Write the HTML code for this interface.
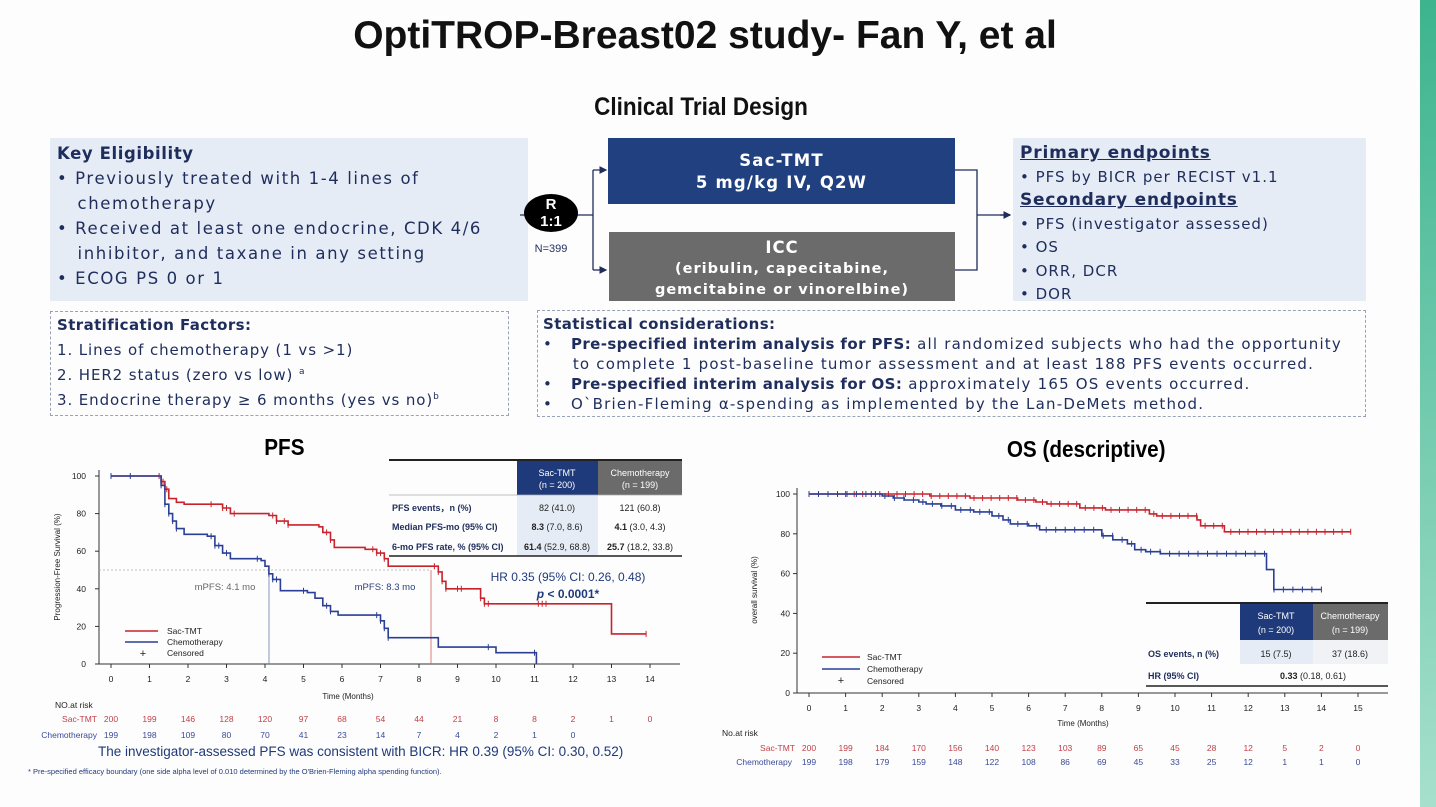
<!DOCTYPE html>
<html><head><meta charset="utf-8"><style>
body{margin:0;width:1436px;height:807px;background:#fdfdfd;position:relative;overflow:hidden;font-family:"Liberation Sans",Arial,sans-serif}
.a{position:absolute;white-space:nowrap}
.nv{color:#1e2d5c}
.dj{font-family:"DejaVu Sans","Liberation Sans",sans-serif}
.bx{position:absolute;background:#e6ecf5}
.ds{position:absolute;border:1.5px dashed #9aa3b5;box-sizing:border-box}
sup{line-height:0}
</style></head><body>
<div class="a" style="left:1420px;top:0;width:16px;height:807px;background:linear-gradient(#3db48e,#a6e0cc)"></div>
<div class="a" style="left:0;width:1410px;top:14px;text-align:center;font-size:39px;font-weight:bold;color:#111">OptiTROP-Breast02 study- Fan Y, et al</div>
<div class="a" style="left:0;width:1402px;top:93px;text-align:center;font-size:25px;font-weight:bold;color:#111;transform:scaleX(0.9)">Clinical Trial Design</div>

<div class="bx" style="left:50px;top:138px;width:478px;height:163px"></div>
<div class="a nv dj" style="left:57px;top:141px;font-size:16.5px;line-height:25px;letter-spacing:1.6px">
<b style="letter-spacing:0.6px">Key Eligibility</b><br>
• Previously treated with 1-4 lines of<br>&nbsp;&nbsp;&nbsp;chemotherapy<br>
• Received at least one endocrine, CDK 4/6<br>&nbsp;&nbsp;&nbsp;inhibitor, and taxane in any setting<br>
• ECOG PS 0 or 1</div>

<div class="ds" style="left:50px;top:311px;width:459px;height:105px"></div>
<div class="a nv dj" style="left:57px;top:313px;font-size:15px;line-height:25px;letter-spacing:0.9px"><b style="letter-spacing:0.4px">Stratification Factors:</b><br>1. Lines of chemotherapy (1 vs &gt;1)<br>2. HER2 status (zero vs low) <sup style="font-size:9px">a</sup><br>3. Endocrine therapy ≥ 6 months (yes vs no)<sup style="font-size:9px">b</sup></div>

<div class="ds" style="left:537px;top:310px;width:829px;height:107px"></div>
<div class="a nv dj" style="left:543px;top:314px;font-size:15px;line-height:20px;letter-spacing:1.2px"><b style="letter-spacing:0.4px">Statistical considerations:</b><br>
•&nbsp;&nbsp;&nbsp;<b style="letter-spacing:0.4px">Pre-specified interim analysis for PFS:</b> all randomized subjects who had the opportunity<br>
&nbsp;&nbsp;&nbsp;&nbsp;&nbsp;to complete 1 post-baseline tumor assessment and at least 188 PFS events occurred.<br>
•&nbsp;&nbsp;&nbsp;<b style="letter-spacing:0.4px">Pre-specified interim analysis for OS:</b> approximately 165 OS events occurred.<br>
•&nbsp;&nbsp;&nbsp;O`Brien-Fleming α-spending as implemented by the Lan-DeMets method.</div>

<div class="a dj" style="left:608px;top:138px;width:347px;height:66px;background:#21407f;color:#fff;text-align:center;font-weight:bold;font-size:16.5px;line-height:22px;padding-top:12px;box-sizing:border-box;letter-spacing:1.2px">Sac-TMT<br>5 mg/kg IV, Q2W</div>
<div class="a dj" style="left:609px;top:232px;width:346px;height:69px;background:#6b6b6b;color:#fff;text-align:center;font-weight:bold;font-size:16.5px;line-height:20px;padding-top:6px;box-sizing:border-box;letter-spacing:1px">ICC<br><span style="font-size:14.5px">(eribulin, capecitabine,<br>gemcitabine or vinorelbine)</span></div>

<div class="bx" style="left:1013px;top:138px;width:353px;height:163px"></div>
<div class="a dj" style="left:1020px;top:142px;color:#1e2d5c;font-size:15px;line-height:23.5px;letter-spacing:1px">
<b style="font-size:17px;text-decoration:underline;letter-spacing:0.8px">Primary endpoints</b><br>• PFS by BICR per RECIST v1.1<br>
<b style="font-size:17px;text-decoration:underline;letter-spacing:0.8px">Secondary endpoints</b><br>• PFS (investigator assessed)<br>• OS<br>• ORR, DCR<br>• DOR</div>

<svg class="a" style="left:0;top:0" width="1436" height="807">
<defs><marker id="ar" markerWidth="6" markerHeight="6" refX="5" refY="3" orient="auto"><path d="M0,0L6,3L0,6z" fill="#1e2d5c"/></marker></defs>
<g stroke="#1e2d5c" stroke-width="1.3" fill="none">
<path d="M520,215H593M593,170V270M593,170H606" marker-end="url(#ar)"/>
<path d="M593,270H606" marker-end="url(#ar)"/>
<path d="M955,170H977V270H955M977,215H1010" />
<path d="M1000,215H1010" marker-end="url(#ar)"/>
</g>
<ellipse cx="551" cy="213" rx="27" ry="19" fill="#000"/>
<text x="551" y="209" fill="#fff" font-size="15" font-weight="bold" text-anchor="middle">R</text>
<text x="551" y="226" fill="#fff" font-size="15" font-weight="bold" text-anchor="middle">1:1</text>
<text x="551" y="252" fill="#1e2d5c" font-size="11" text-anchor="middle">N=399</text>
<g id="charts"></g>
</svg>

<div class="a" style="left:262px;top:434px;font-size:23px;font-weight:bold;transform:scaleX(.9)">PFS</div>
<div class="a" style="left:998px;top:436px;font-size:23px;font-weight:bold;transform:scaleX(.9)">OS (descriptive)</div>

<script>
var g=document.getElementById('charts'),S='';
function T(x,y,s,o){o=o||{};S+='<text x="'+x+'" y="'+y+'" font-size="'+(o.fs||9)+'" fill="'+(o.c||'#222')+'" text-anchor="'+(o.a||'middle')+'"'+(o.w?' font-weight="bold"':'')+(o.tr?' transform="'+o.tr+'"':'')+(o.st?' font-style="italic"':'')+'>'+s+'</text>';}
function L(d,c,w,ex){S+='<path d="'+d+'" stroke="'+c+'" stroke-width="'+(w||1)+'" fill="none" '+(ex||'')+'/>';}
function R(x,y,w,h,c){S+='<rect x="'+x+'" y="'+y+'" width="'+w+'" height="'+h+'" fill="'+c+'"/>';}
function curve(pts,X,Y,c,cens){var d='M'+X(pts[0][0])+','+Y(pts[0][1]);for(var i=1;i<pts.length;i++){d+='H'+X(pts[i][0]).toFixed(1)+'V'+Y(pts[i][1]).toFixed(1);}L(d,c,1.6);
 var cd='';cens.forEach(function(t){var v=pts[0][1];for(var i=0;i<pts.length;i++)if(pts[i][0]<=t)v=pts[i][1];var x=X(t),y=Y(v);cd+='M'+x.toFixed(1)+','+(y-3).toFixed(1)+'v6';});L(cd,c,1);}
function rng(a,b,n){var r=[];for(var i=0;i<n;i++)r.push(a+(b-a)*i/(n-1));return r;}
var X1=function(m){return 111+m*38.5},Y1=function(p){return 664-p*1.88};
L('M99,470V664H680','#333',1);
[0,20,40,60,80,100].forEach(function(v){L('M95,'+Y1(v)+'H99','#333');T(86,Y1(v)+3,v,{a:'end',fs:8.5});});
for(var i=0;i<=14;i++){L('M'+X1(i)+',664v4','#333');T(X1(i),682,i,{fs:8.5});}
T(60,567,'Progression-Free Survival (%)',{fs:8,tr:'rotate(-90 60 567)'});
T(348,699,'Time (Months)',{fs:8});
L('M99,570H430','#aaa',0.8,'stroke-dasharray="2,2"');
L('M269,570V664','#6a7bb0',0.8);L('M431,570V664','#d06060',0.8);
T(225,590,'mPFS: 4.1 mo',{fs:9.5,c:'#666'});T(385,590,'mPFS: 8.3 mo',{fs:9.5,c:'#2a3f80'});
T(568,581,'HR 0.35 (95% CI: 0.26, 0.48)',{fs:12,c:'#1f3a7a'});T(568,598,'<tspan font-style="italic">p</tspan> &lt; 0.0001*',{fs:12,c:'#1f3a7a',w:1});
var red1=[[0,100],[1.2,100],[1.3,97],[1.4,93],[1.5,88],[1.7,86],[1.9,85],[2.7,85],[2.9,83],[3.1,80],[4.1,79],[4.3,76],[4.6,74],[5.4,73],[5.5,70],[5.7,66],[5.8,62],[6.6,61],[6.9,59],[7.1,56],[7.2,52],[8.3,52],[8.5,49],[8.6,44],[8.7,40],[9.5,40],[9.6,35],[9.7,32],[12.9,32],[13,16],[13.9,16]];
var blu1=[[0,100],[1.1,100],[1.3,95],[1.4,85],[1.5,80],[1.6,76],[1.7,72],[1.9,69],[2.5,68],[2.7,63],[2.9,59],[3.1,56],[3.9,55],[4.0,52],[4.1,48],[4.2,45],[4.4,39],[5.1,38],[5.3,35],[5.5,31],[5.7,28],[5.9,26],[6.9,26],[7.0,23],[7.1,19],[7.2,14],[8.4,14],[8.5,9],[9.9,9],[10,6],[11,6],[11.05,0]];
curve(red1,X1,Y1,'#c8232c',[0,1.25,1.3,1.35,1.45,2.6,2.9,3.0,3.2,4.2,4.3,4.5,4.6,5.6,5.7,6.8,6.9,7.0,7.1,8.4,8.5,8.6,8.7,9.0,9.1,9.6,9.7,9.8,11.1,11.2,11.3,13.9]);
curve(blu1,X1,Y1,'#2b3f96',[0,0.5,1.3,1.4,1.5,1.6,1.7,2.6,2.7,2.8,3.0,3.8,4.1,4.2,4.3,5.0,5.6,5.7,6.9,7.0,7.1,7.2,9.8,11.0]);
L('M125,631H158','#c8232c',1.5);L('M125,642H158','#2b3f96',1.5);T(167,634,'Sac-TMT',{a:'start',fs:8.5});T(167,645,'Chemotherapy',{a:'start',fs:8.5});T(143,657,'+',{fs:11});T(167,656,'Censored',{a:'start',fs:8.5});
L('M389,460H682','#222',2);R(517,461,81,34,'#1f3a7a');R(598,461,84,34,'#6b6b6b');R(517,495,81,61,'#e6ecf5');
T(557,476,'Sac-TMT',{fs:9,c:'#fff'});T(557,488,'(n = 200)',{fs:9,c:'#fff'});T(640,476,'Chemotherapy',{fs:9,c:'#fff'});T(640,488,'(n = 199)',{fs:9,c:'#fff'});
L('M389,495H682','#aaa',0.8);
T(392,511,'PFS events，n (%)',{a:'start',fs:9,w:1,c:'#1e2d5c'});T(392,530,'Median PFS-mo (95% CI)',{a:'start',fs:9,w:1,c:'#1e2d5c'});T(392,550,'6-mo PFS rate, %  (95% CI)',{a:'start',fs:9,w:1,c:'#1e2d5c'});
T(557,511,'82 (41.0)',{fs:9});T(640,511,'121 (60.8)',{fs:9});
T(557,530,'<tspan font-weight="bold">8.3</tspan> (7.0, 8.6)',{fs:9});T(640,530,'<tspan font-weight="bold">4.1</tspan> (3.0, 4.3)',{fs:9});
T(557,550,'<tspan font-weight="bold">61.4</tspan> (52.9, 68.8)',{fs:9});T(640,550,'<tspan font-weight="bold">25.7</tspan> (18.2, 33.8)',{fs:9});
L('M389,556H682','#222',1.5);
T(55,708,'NO.at risk',{a:'start',fs:8.5});T(97,722,'Sac-TMT',{a:'end',fs:8.5,c:'#c04048'});T(97,738,'Chemotherapy',{a:'end',fs:8.5,c:'#3a4a9a'});
var rs1=[200,199,146,128,120,97,68,54,44,21,8,8,2,1,0],rb1=[199,198,109,80,70,41,23,14,7,4,2,1,0];
rs1.forEach(function(v,i){T(X1(i),722,v,{fs:8.5,c:'#c04048'});});rb1.forEach(function(v,i){T(X1(i),738,v,{fs:8.5,c:'#3a4a9a'});});
T(98,756,'The investigator-assessed PFS was consistent with BICR: HR 0.39 (95% CI: 0.30, 0.52)',{a:'start',fs:13.5,c:'#1f3a7a'});
T(28,774,'* Pre-specified efficacy boundary (one side alpha level of 0.010 determined by the O\'Brien-Fleming alpha spending function).',{a:'start',fs:7.5,c:'#1f3a7a'});
var X2=function(m){return 809+m*36.6},Y2=function(p){return 693-p*1.99};
L('M797,488V693H1388','#333',1);
[0,20,40,60,80,100].forEach(function(v){L('M793,'+Y2(v)+'H797','#333');T(790,Y2(v)+3,v,{a:'end',fs:8.5});});
for(var i=0;i<=15;i++){L('M'+X2(i)+',693v4','#333');T(X2(i),711,i,{fs:8.5});}
T(757,590,'overall survival (%)',{fs:8,tr:'rotate(-90 757 590)'});T(1083,726,'Time (Months)',{fs:8});
var red2=[[0,100],[3.2,100],[3.3,99],[4.2,99],[4.4,98],[5.5,98],[5.7,97],[6.2,96],[6.5,95],[7.3,95],[7.4,93],[8.0,93],[8.1,92],[9.2,92],[9.3,90],[9.5,89],[10.5,89],[10.6,87],[10.7,84],[11.3,84],[11.35,81],[14.8,81]];
var blu2=[[0,100],[1.5,100],[2.0,99],[2.3,98],[2.6,97],[3.0,96],[3.2,95],[3.6,94],[4.0,92],[4.5,91],[5.0,89],[5.3,87],[5.5,85],[6.0,84],[6.3,82],[7.9,82],[8.0,79],[8.3,77],[8.7,75],[8.9,72],[9.2,71],[9.6,70],[12.4,70],[12.5,62],[12.7,52],[14.0,52]];
curve(red2,X2,Y2,'#c8232c',rng(1,14.8,60));
curve(blu2,X2,Y2,'#2b3f96',rng(0,14,55));
L('M822,657H860','#c8232c',1.5);L('M822,669H860','#2b3f96',1.5);T(867,660,'Sac-TMT',{a:'start',fs:8.5});T(867,672,'Chemotherapy',{a:'start',fs:8.5});T(841,684,'+',{fs:11});T(867,684,'Censored',{a:'start',fs:8.5});
L('M1146,603H1388','#222',2);R(1240,604,73,36,'#1f3a7a');R(1313,604,75,36,'#6b6b6b');R(1240,640,73,24,'#e6ecf5');R(1313,640,75,24,'#f0f2f6');
T(1276,619,'Sac-TMT',{fs:9,c:'#fff'});T(1276,633,'(n = 200)',{fs:9,c:'#fff'});T(1350,619,'Chemotherapy',{fs:9,c:'#fff'});T(1350,633,'(n = 199)',{fs:9,c:'#fff'});
T(1148,657,'OS events, n (%)',{a:'start',fs:9,w:1,c:'#1e2d5c'});T(1148,679,'HR (95% CI)',{a:'start',fs:9,w:1,c:'#1e2d5c'});
T(1276,657,'15 (7.5)',{fs:9});T(1350,657,'37 (18.6)',{fs:9});T(1313,679,'<tspan font-weight="bold">0.33</tspan> (0.18, 0.61)',{fs:9});
L('M1146,686H1388','#222',1.5);
T(722,736,'No.at risk',{a:'start',fs:8.5});T(795,751,'Sac-TMT',{a:'end',fs:8.5,c:'#c04048'});T(792,765,'Chemotherapy',{a:'end',fs:8.5,c:'#3a4a9a'});
var rs2=[200,199,184,170,156,140,123,103,89,65,45,28,12,5,2,0],rb2=[199,198,179,159,148,122,108,86,69,45,33,25,12,1,1,0];
rs2.forEach(function(v,i){T(X2(i),751,v,{fs:8.5,c:'#c04048'});});rb2.forEach(function(v,i){T(X2(i),765,v,{fs:8.5,c:'#3a4a9a'});});
g.innerHTML=S;
</script>
</body></html>
